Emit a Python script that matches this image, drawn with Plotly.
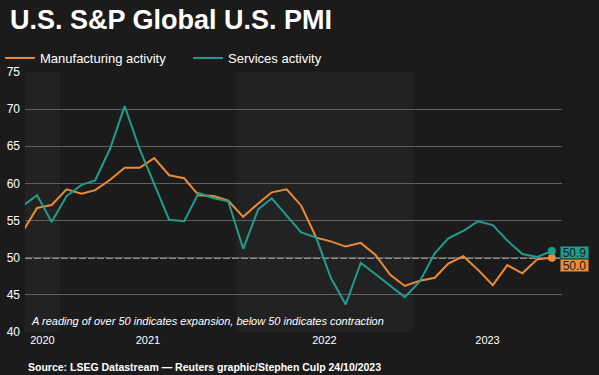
import plotly.graph_objects as go
import pandas as pd

# ---- data (monthly, Oct 2020 - Oct 2023) ----
months = [pd.Timestamp(2020 + (9 + i) // 12, (9 + i) % 12 + 1, 15) for i in range(37)]

manufacturing = [53.4, 56.7, 57.1,
                 59.2, 58.6, 59.1, 60.5, 62.1, 62.1, 63.4, 61.1, 60.7, 58.4, 58.3, 57.7,
                 55.5, 57.3, 58.8, 59.2, 57.0, 52.7, 52.2, 51.5, 52.0, 50.4, 47.7, 46.2,
                 46.9, 47.3, 49.2, 50.2, 48.4, 46.3, 49.0, 47.9, 49.8, 50.0]
services = [56.9, 58.4, 54.8,
            58.3, 59.8, 60.4, 64.7, 70.4, 64.6, 59.9, 55.1, 54.9, 58.7, 58.0, 57.6,
            51.2, 56.5, 58.0, 55.6, 53.4, 52.7, 47.3, 43.7, 49.3, 47.8, 46.2, 44.7,
            46.8, 50.6, 52.6, 53.6, 54.9, 54.4, 52.3, 50.5, 50.1, 50.9]

year_labels = ["2020", "2021", "2022", "2023"]
year_label_pos = ["2020-11-26", "2021-07-02", "2022-07-02", "2023-06-04"]
y_ticks = [40, 45, 50, 55, 60, 65, 70, 75]

ORANGE = "#ec8b37"
TEAL = "#1f9d8d"
BG = "#1b1b1b"
BAND = "#222222"
FONT = "Arial, Liberation Sans, sans-serif"

x_start, x_end = "2020-10-21", "2023-11-05"

# plot area in pixels: x 25..562, y 72..332
PW, PH = 537.0, 260.0

fig = go.Figure()
fig.add_trace(go.Scatter(x=months, y=manufacturing, mode="lines", name="Manufacturing activity",
                         line=dict(color=ORANGE, width=2)))
fig.add_trace(go.Scatter(x=months, y=services, mode="lines", name="Services activity",
                         line=dict(color=TEAL, width=2)))
fig.add_trace(go.Scatter(x=[months[-1]], y=[manufacturing[-1]], mode="markers", showlegend=False,
                         marker=dict(color=ORANGE, size=8), cliponaxis=False))
fig.add_trace(go.Scatter(x=[months[-1]], y=[services[-1]], mode="markers", showlegend=False,
                         marker=dict(color=TEAL, size=8), cliponaxis=False))

# alternating year bands
for x0, x1 in [(x_start, "2021-01-01"), ("2022-01-01", "2023-01-01")]:
    fig.add_shape(type="rect", xref="x", yref="paper", x0=x0, x1=x1, y0=0, y1=1,
                  fillcolor=BAND, line_width=0, layer="below")

# 50 reference line
fig.add_shape(type="line", xref="paper", yref="y", x0=0, x1=1, y0=50, y1=50,
              line=dict(color="white", width=1.5, dash="7px,2px"), layer="between")

# end labels
fig.add_annotation(x=months[-1], y=services[-1], text="50.9", xanchor="left", yanchor="middle",
                   xshift=8, yshift=-1.3, showarrow=False, bgcolor=TEAL, bordercolor="#136057",
                   borderwidth=1, borderpad=0, width=27, height=11, align="center",
                   font=dict(color="#1b1b1b", size=12, family=FONT))
fig.add_annotation(x=months[-1], y=manufacturing[-1], text="50.0", xanchor="left", yanchor="middle",
                   xshift=8, yshift=-8, showarrow=False, bgcolor=ORANGE, bordercolor="#8a5020",
                   borderwidth=1, borderpad=0, width=27, height=11, align="center",
                   font=dict(color="#1b1b1b", size=12, family=FONT))

# note
fig.add_annotation(xref="paper", yref="paper", x=4 / PW, y=11 / PH,
                   xanchor="left", yanchor="middle",
                   text="<i>A reading of over 50 indicates expansion, below 50 indicates contraction</i>",
                   showarrow=False, font=dict(color="white", size=11, family=FONT))
# source
fig.add_annotation(xref="paper", yref="paper", x=1 / PW, y=-35 / PH,
                   xanchor="left", yanchor="middle",
                   text="<b>Source: LSEG Datastream — Reuters graphic/Stephen Culp 24/10/2023</b>",
                   showarrow=False, font=dict(color="white", size=10.5, family=FONT))

fig.update_layout(
    width=599, height=375,
    margin=dict(l=25, r=37, t=72, b=43, autoexpand=False),
    paper_bgcolor=BG, plot_bgcolor=BG,
    font=dict(family=FONT, color="white"),
    title=dict(text="<b>U.S. S&P Global U.S. PMI</b>", x=10 / 599, xanchor="left",
               xref="container", y=1 - 20 / 375, yanchor="middle", yref="container",
               font=dict(size=27, color="white", family=FONT)),
    legend=dict(orientation="h", x=-13 / 599, xref="container", y=1 - 58 / 375, yref="container",
                xanchor="left", yanchor="middle", bgcolor="rgba(0,0,0,0)",
                font=dict(size=13, color="white", family=FONT),
                entrywidth=143, entrywidthmode="pixels", itemclick=False),
    showlegend=True,
    xaxis=dict(range=[x_start, x_end], showgrid=False, zeroline=False, showline=False,
               tickmode="array", tickvals=year_label_pos, ticktext=year_labels, ticks="",
               tickfont=dict(size=11, color="white", family=FONT), fixedrange=True),
    yaxis=dict(range=[40, 75], tickvals=y_ticks, showgrid=True, gridcolor="#5e5e5e", gridwidth=1,
               zeroline=False, showline=False, ticks="", ticklabelstandoff=4,
               tickfont=dict(size=12, color="white", family=FONT), fixedrange=True),
)
fig.update_xaxes(tickprefix="<b>", ticksuffix="</b>")
fig.update_yaxes(tickprefix="<b>", ticksuffix="</b>")

fig.write_html("out.html", config={"displayModeBar": False},
               post_script="document.body.style.margin='0px';"
                           "document.body.style.background='#1b1b1b';")
